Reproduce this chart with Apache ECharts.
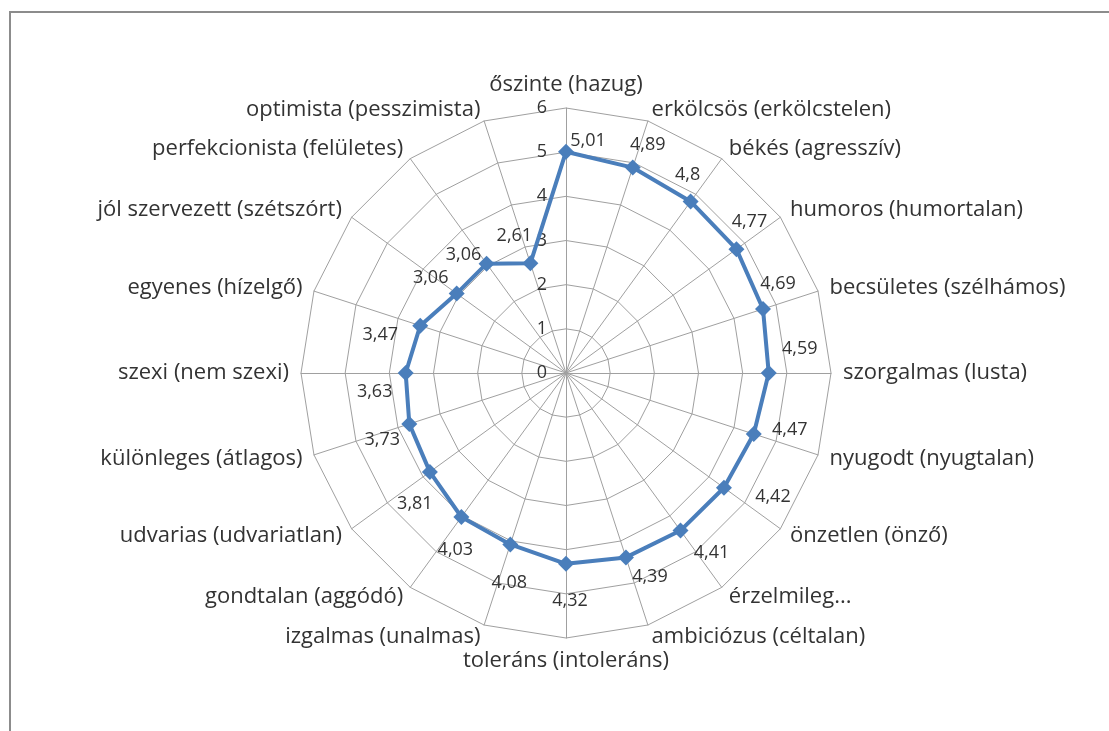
<!DOCTYPE html>
<html><head><meta charset="utf-8">
<script src="https://cdn.jsdelivr.net/npm/echarts@6/dist/echarts.min.js"></script>
<style>html,body{margin:0;padding:0;background:#fff}#c{width:1109px;height:731px}</style>
</head><body><div id="c"></div>
<script>
// ---- data (clockwise from the top) ----
const indicators = [
  'őszinte (hazug)', 'erkölcsös (erkölcstelen)', 'békés (agresszív)', 'humoros (humortalan)',
  'becsületes (szélhámos)', 'szorgalmas (lusta)', 'nyugodt (nyugtalan)', 'önzetlen (önző)',
  'érzelmileg...', 'ambiciózus (céltalan)', 'toleráns (intoleráns)', 'izgalmas (unalmas)',
  'gondtalan (aggódó)', 'udvarias (udvariatlan)', 'különleges (átlagos)', 'szexi (nem szexi)',
  'egyenes (hízelgő)', 'jól szervezett (szétszórt)', 'perfekcionista (felületes)', 'optimista (pesszimista)'
];
const values = [5.01, 4.89, 4.8, 4.77, 4.69, 4.59, 4.47, 4.42, 4.41, 4.39, 4.32, 4.08, 4.03, 3.81, 3.73, 3.63, 3.47, 3.06, 3.06, 2.61];
const axisMin = 0;
const axisMax = 6;
const axisSplits = 6;

// ---- styles ----
const FONT = 'Open Sans';
const TEXT = '#333333';
const GRID = '#a0a0a0';
const BLUE = '#4a7ebb';
const LABEL_OFFSETS = [
  [22,-11],[15,-23],[-3,-27],[13,-27],[15,-25],[31,-24],[36,-4],[49,9],[31,22],[24,19],
  [4,37],[-1,38],[-6,33],[-15,32],[-27,16],[-31,19],[-40,9],[-26,-16],[-23,-9],[-16,-27]
];
const fmt = v => String(v).replace('.', ',');

// ECharts lays radar indicators out counter-clockwise; reorder so they run clockwise.
const n = indicators.length;
const order = [0].concat(Array.from({length: n - 1}, (_, i) => n - 1 - i));
const ordNames = order.map(i => indicators[i]);
const ordValues = order.map(i => values[i]);

const chart = echarts.init(document.getElementById('c'), null, {renderer: 'canvas'});
const CENTER = [566, 373], RADIUS = 265;
chart.setOption({
  animation: false,
  backgroundColor: '#fff',
  graphic: [{
    type: 'rect', silent: true,
    shape: {x: 10, y: 12, width: 1300, height: 1000},
    style: {fill: 'none', stroke: '#8c8c8c', lineWidth: 2}
  }],
  radar: [{
    center: CENTER, radius: RADIUS, startAngle: 90,
    splitNumber: axisSplits, shape: 'polygon',
    indicator: ordNames.map(nm => ({name: nm, min: axisMin, max: axisMax})),
    nameGap: 12,
    axisName: {color: TEXT, fontSize: 22, fontFamily: FONT},
    splitLine: {lineStyle: {color: GRID, width: 1}},
    splitArea: {show: false},
    axisLine: {lineStyle: {color: GRID, width: 1}},
    axisTick: {show: false},
    axisLabel: {show: false}
  }, {
    center: CENTER, radius: RADIUS, startAngle: 90,
    splitNumber: axisSplits, shape: 'polygon',
    indicator: [{name: '', min: axisMin, max: axisMax}],
    axisName: {show: false},
    splitLine: {show: false}, splitArea: {show: false},
    axisLine: {show: false}, axisTick: {show: false},
    axisLabel: {show: true, color: TEXT, fontSize: 18, fontFamily: FONT, margin: 19}
  }],
  series: [{
    type: 'radar', radarIndex: 0, z: 3,
    symbol: 'diamond', symbolSize: 16,
    lineStyle: {color: BLUE, width: 4},
    itemStyle: {color: BLUE},
    data: [{value: ordValues, name: 'values'}]
  }, {
    type: 'radar', radarIndex: 0, z: 4, silent: true,
    symbol: 'circle', symbolSize: 1,
    lineStyle: {width: 0, opacity: 0},
    itemStyle: {color: 'rgba(0,0,0,0)'},
    label: {
      show: true, position: 'inside', color: TEXT, fontSize: 18, fontFamily: FONT,
      formatter: p => (typeof p.value === 'number' && p.value > 0) ? fmt(p.value) : ''
    },
    data: order.map((k, pos) => ({
      value: ordValues.map((w, j) => j === pos ? w : 0),
      label: {offset: LABEL_OFFSETS[k]}
    }))
  }]
});
</script></body></html>
